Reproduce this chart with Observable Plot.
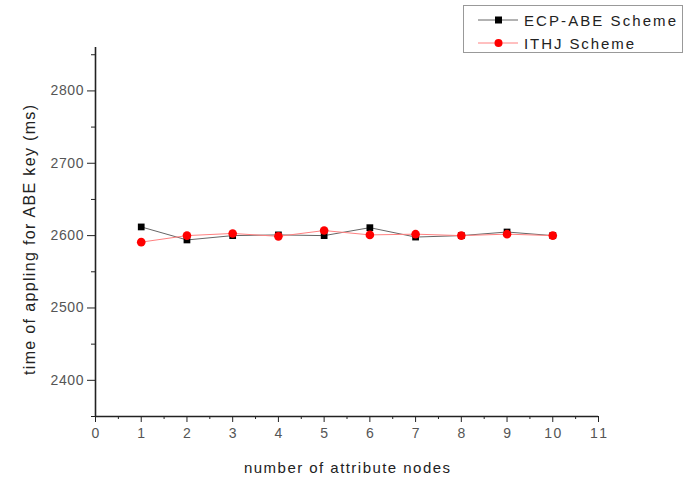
<!DOCTYPE html>
<html>
<head>
<meta charset="utf-8">
<script src="https://cdn.jsdelivr.net/npm/d3@7"></script>
<script src="https://cdn.jsdelivr.net/npm/@observablehq/plot@0.6"></script>
<style>
  html, body { margin: 0; padding: 0; background: #fff; }
  #wrap { position: relative; width: 690px; height: 477px; font-family: "Liberation Sans", Arial, sans-serif; }
  #legend { position: absolute; left: 463px; top: 5px; width: 220px; height: 48px; border: 1px solid #999; background: #fff; box-sizing: border-box; }
</style>
</head>
<body>
<div id="wrap"><div id="chart"></div><div id="legend"></div></div>
<script>
const nodes = [1, 2, 3, 4, 5, 6, 7, 8, 9, 10];
const ecpAbe = [2612, 2594, 2600, 2601, 2600, 2611, 2598, 2600, 2605, 2600];
const ithj   = [2591, 2600, 2603, 2599, 2607, 2601, 2602, 2600, 2602, 2600];
const seriesNames = ["ECP-ABE Scheme", "ITHJ Scheme"];
const xLabel = "number of attribute nodes";
const yLabel = "time of appling for ABE key (ms)";
const xTicks = [0, 1, 2, 3, 4, 5, 6, 7, 8, 9, 10, 11];
const xMinor = [0.5, 1.5, 2.5, 3.5, 4.5, 5.5, 6.5, 7.5, 8.5, 9.5, 10.5];
const yTicks = [2400, 2500, 2600, 2700, 2800];
const yMinor = [2350, 2450, 2550, 2650, 2750, 2850];

const ecpData = nodes.map((n, i) => ({x: n, y: ecpAbe[i]}));
const ithjData = nodes.map((n, i) => ({x: n, y: ithj[i]}));

const chart = Plot.plot({
  width: 690,
  height: 477,
  marginLeft: 95,
  marginRight: 92,
  marginTop: 47,
  marginBottom: 61,
  style: {fontFamily: "Liberation Sans, Arial, sans-serif", fontSize: "14px", color: "#333", background: "#fff"},
  x: {domain: [0, 11], axis: null},
  y: {domain: [2350, 2860], axis: null},
  marks: [
    Plot.axisX({ticks: xMinor, tickSize: 3, tickFormat: () => "", stroke: "#222", label: null}),
    Plot.axisX({ticks: xTicks, tickSize: 6, tickFormat: () => "", stroke: "#222", label: xLabel, labelAnchor: "center", labelArrow: "none", labelOffset: 56}),
    Plot.axisY({ticks: yMinor, tickSize: 4, tickFormat: () => "", stroke: "#222", label: null}),
    Plot.axisY({ticks: yTicks, tickSize: 8, tickFormat: () => "", stroke: "#222", label: yLabel, labelAnchor: "center", labelArrow: "none", labelOffset: 72}),
    Plot.text(xTicks, {x: d => d, text: d => String(d), frameAnchor: "bottom", dy: 21, fontSize: 14, fill: "#555", className: "tlx"}),
    Plot.text(yTicks, {y: d => d, text: d => String(d), frameAnchor: "left", dx: -12, textAnchor: "end", fontSize: 14, fill: "#555", className: "tly"}),
    Plot.ruleX([0], {y1: 2350, y2: 2860, stroke: "#222", strokeWidth: 1.6}),
    Plot.ruleY([2350], {x1: 0, x2: 11, stroke: "#222", strokeWidth: 1.6}),
    Plot.line(ecpData, {x: "x", y: "y", stroke: "#666", strokeWidth: 1}),
    Plot.dot(ecpData, {x: "x", y: "y", symbol: "square", r: 3.8, fill: "#000", stroke: "none"}),
    Plot.line(ithjData, {x: "x", y: "y", stroke: "#ff8080", strokeWidth: 1}),
    Plot.dot(ithjData, {x: "x", y: "y", symbol: "circle", r: 4.3, fill: "#ff0000", stroke: "none"})
  ]
});
document.getElementById("chart").appendChild(chart);

// adjust text to match the reference's stretched look
d3.select(chart).selectAll("text").each(function () {
  const t = d3.select(this);
  const s = this.textContent.trim();
  if (s === xLabel) {
    t.style("font-size", "15px").attr("fill", "#222").attr("textLength", 206).attr("lengthAdjust", "spacing");
  } else if (s === yLabel) {
    t.style("font-size", "16px").attr("fill", "#222").attr("textLength", 270).attr("lengthAdjust", "spacing").attr("dx", -8);
  } else if (/^\d{4}$/.test(s)) {
    t.attr("textLength", 33).attr("lengthAdjust", "spacing");
  } else if (/^\d{2}$/.test(s)) {
    t.attr("textLength", 17).attr("lengthAdjust", "spacing");
  }
});

// legend
const colors = [{line: "#666", fill: "#000", sym: "square"}, {line: "#ff8080", fill: "#ff0000", sym: "circle"}];
const legendLen = [152, 110];
const lg = d3.select("#legend").append("svg").attr("width", 218).attr("height", 46)
  .style("font-family", "Liberation Sans, Arial, sans-serif");
seriesNames.forEach((name, i) => {
  const cy = 14 + i * 23;
  lg.append("line").attr("x1", 14).attr("x2", 54).attr("y1", cy).attr("y2", cy).attr("stroke", colors[i].line);
  if (colors[i].sym === "square") lg.append("rect").attr("x", 31).attr("y", cy - 3.5).attr("width", 7).attr("height", 7).attr("fill", colors[i].fill);
  else lg.append("circle").attr("cx", 34.5).attr("cy", cy).attr("r", 4).attr("fill", colors[i].fill);
  lg.append("text").attr("x", 60).attr("y", cy + 5.5).attr("font-size", 15).attr("textLength", legendLen[i]).attr("lengthAdjust", "spacing").attr("fill", "#222").text(name);
});
</script>
</body>
</html>
